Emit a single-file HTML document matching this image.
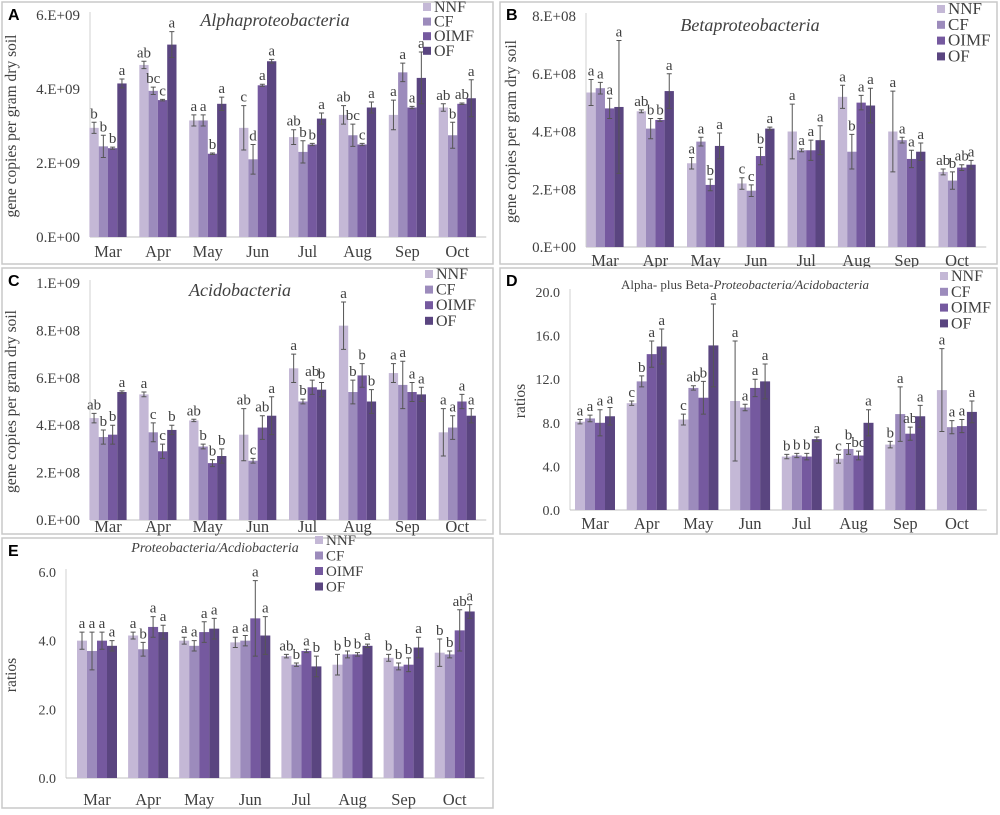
<!DOCTYPE html>
<html><head><meta charset="utf-8"><style>
body{margin:0;background:#fff}
svg text{font-family:"Liberation Serif",serif;fill:#404040}
</style></head><body>
<svg id="c" width="1000" height="810" viewBox="0 0 1000 810" xmlns="http://www.w3.org/2000/svg"></svg>
<script>
const months=["Mar","Apr","May","Jun","Jul","Aug","Sep","Oct"];
const series=["NNF","CF","OIMF","OF"];
const colors=["#c4b8d6","#9c8bbc","#75599f","#5a4580"];
// Panel A (x1E9)
const aVals=[[2.95,2.45,2.4,4.15],[4.65,3.95,3.7,5.2],[3.15,3.15,2.25,3.6],[2.95,2.1,4.1,4.75],[2.7,2.3,2.5,3.2],[3.3,2.75,2.5,3.5],[3.3,4.45,3.5,4.3],[3.5,2.75,3.6,3.75]];
const aErr=[[.15,.3,.03,.12],[.1,.1,.02,.35],[.15,.15,.02,.18],[.6,.4,.03,.05],[.2,.3,.03,.15],[.25,.3,.03,.15],[.4,.25,.03,.7],[.1,.35,.02,.5]];
const aLet=[["b","b","b","a"],["ab","bc","c","a"],["a","a","b","a"],["c","d","a","a"],["ab","b","b","a"],["ab","bc","c","a"],["a","a","a","a"],["ab","b","ab","a"]];
const aTicks=["0.E+00","2.E+09","4.E+09","6.E+09"];
// Panel B (x1E8)
const bVals=[[5.35,5.5,4.8,4.85],[4.7,4.1,4.4,5.4],[2.9,3.65,2.15,3.5],[2.2,1.95,3.15,4.1],[4.0,3.35,3.35,3.7],[5.2,3.3,5.0,4.9],[4.0,3.7,3.05,3.3],[2.6,2.3,2.75,2.85]];
const bErr=[[.45,.2,.35,2.3],[.05,.35,.05,.6],[.2,.15,.2,.45],[.2,.2,.3,.05],[.95,.05,.35,.5],[.4,.6,.25,.6],[1.4,.1,.3,.3],[.1,.3,.1,.15]];
const bLet=[["a","a","a","a"],["ab","b","b","a"],["a","a","b","a"],["c","c","b","a"],["a","a","a","a"],["a","b","a","a"],["a","a","a","a"],["ab","b","ab","a"]];
const bTicks=["0.E+00","2.E+08","4.E+08","6.E+08","8.E+08"];
// Panel C (x1E8)
const cVals=[[4.3,3.5,3.6,5.4],[5.3,3.7,2.9,3.8],[4.2,3.1,2.4,2.7],[3.6,2.5,3.9,4.4],[6.4,5.0,5.6,5.5],[8.2,5.4,6.1,5.0],[6.2,5.7,5.4,5.3],[3.7,3.9,5.0,4.4]];
const cErr=[[.2,.3,.4,.05],[.1,.4,.3,.2],[.05,.1,.15,.3],[1.1,.1,.5,.8],[.6,.1,.3,.3],[1.0,.5,.5,.5],[.4,1.0,.4,.3],[1.0,.5,.3,.3]];
const cLet=[["ab","b","b","a"],["a","c","c","b"],["ab","b","b","b"],["ab","c","ab","a"],["a","b","ab","b"],["a","b","b","b"],["a","a","a","a"],["a","a","a","a"]];
const cTicks=["0.E+00","2.E+08","4.E+08","6.E+08","8.E+08","1.E+09"];
// Panel D (ratios)
const dVals=[[8.1,8.4,8.0,8.6],[9.8,11.8,14.3,15.0],[8.3,11.2,10.3,15.1],[10.0,9.4,11.2,11.8],[4.9,5.0,4.9,6.5],[4.7,5.6,5.0,8.0],[6.0,8.8,7.0,8.6],[11.0,7.6,7.7,9.0]];
const dErr=[[.2,.3,1.2,.8],[.2,.5,1.2,1.6],[.5,.2,1.5,3.8],[5.5,.3,.8,1.6],[.2,.2,.3,.2],[.4,.5,.4,1.2],[.3,2.5,.6,1.0],[3.8,.6,.6,1.0]];
const dLet=[["a","a","a","a"],["c","b","a","a"],["c","ab","b","a"],["a","a","a","a"],["b","b","b","a"],["c","b","bc","a"],["b","a","ab","a"],["a","a","a","a"]];
const dTicks=["0.0","4.0","8.0","12.0","16.0","20.0"];
// Panel E (ratios)
const eVals=[[4.0,3.7,4.0,3.85],[4.15,3.75,4.4,4.25],[4.0,3.85,4.25,4.35],[3.95,4.0,4.65,4.15],[3.55,3.3,3.7,3.25],[3.3,3.6,3.6,3.85],[3.5,3.25,3.3,3.8],[3.65,3.6,4.3,4.85]];
const eErr=[[.25,.55,.25,.15],[.1,.2,.3,.2],[.1,.15,.3,.3],[.15,.15,1.1,.55],[.05,.05,.05,.3],[.3,.1,.05,.05],[.1,.1,.2,.3],[.4,.1,.6,.2]];
const eLet=[["a","a","a","a"],["a","b","a","a"],["a","a","a","a"],["a","a","a","a"],["ab","b","a","b"],["b","b","b","a"],["b","b","b","a"],["b","b","ab","a"]];
const eTicks=["0.0","2.0","4.0","6.0"];

const NS="http://www.w3.org/2000/svg";
const svg=document.getElementById("c");
function mk(tag,attrs,parent,text){const e=document.createElementNS(NS,tag);for(const k in attrs)e.setAttribute(k,attrs[k]);if(text!==undefined)e.textContent=text;(parent||svg).appendChild(e);return e;}

const panels=[
 {id:"a",box:[2,2,491,262],vals:aVals,err:aErr,let:aLet,ticks:aTicks,max:6,axX:90,base:237,top:15,x0:108,step:49.9,bw:9.3,xl:257,title:"Alphaproteobacteria",tx:275,ty:26,tfs:18,leg:[423,7,14.6,16],yl:"gene copies per gram dry soil",ylx:16,tfsz:15},
 {id:"b",box:[500,2,497,262],vals:bVals,err:bErr,let:bLet,ticks:bTicks,max:8,axX:586,base:247,top:16,x0:605,step:50.3,bw:9.3,xl:266,title:"Betaproteobacteria",tx:750,ty:31,tfs:18,leg:[937,9,15.8,17],yl:"gene copies per gram dry soil",ylx:516,tfsz:15},
 {id:"c",box:[2,268,491,266],vals:cVals,err:cErr,let:cLet,ticks:cTicks,max:10,axX:90,base:520,top:283,x0:108,step:49.9,bw:9.3,xl:532,title:"Acidobacteria",tx:240,ty:296,tfs:18,leg:[425,274,15.6,16],yl:"gene copies per gram dry soil",ylx:16,tfsz:15},
 {id:"d",box:[500,268,497,266],vals:dVals,err:dErr,let:dLet,ticks:dTicks,max:20,axX:570,base:510,top:292,x0:595,step:51.7,bw:10,xl:529,title:"D",tx:745,ty:289,tfs:13,leg:[940,276,15.8,16],yl:"ratios",ylx:525,tfsz:14},
 {id:"e",box:[2,538,491,270],vals:eVals,err:eErr,let:eLet,ticks:eTicks,max:6,axX:66,base:778,top:572,x0:97,step:51.1,bw:10,xl:805,title:"Proteobacteria/Acdiobacteria",tx:215,ty:552,tfs:14,leg:[315,540,15.5,15],yl:"ratios",ylx:16,tfsz:14},
];
const letters=["A","B","C","D","E"];
panels.forEach((p,pi)=>{
  const g=mk("g",{},svg);
  
  
  const fr=mk("rect",{x:p.box[0],y:p.box[1],width:p.box[2],height:p.box[3],fill:"#fff",stroke:"#c8c8c8","stroke-width":1.5},g);
  
  
  const y=v=>p.base-(v/p.max)*(p.base-p.top);
  const nT=p.ticks.length;
  p.ticks.forEach((t,i)=>{
    const v=p.max*i/(nT-1);
    const tt=mk("text",{x:p.axX-10,y:y(v)+5,"text-anchor":"end","font-size":p.tfsz},g,t);
    
    
  });
  const ax=mk("line",{x1:p.axX,y1:p.top-3,x2:p.axX,y2:p.base,stroke:"#d0d0d0"},g);
  
  
  const bx=mk("line",{x1:p.axX,y1:p.base,x2:p.x0+p.step*7.5+4,y2:p.base,stroke:"#c0c0c0"},g);
  
  
  p.vals.forEach((row,mi)=>{
    const cx=p.x0+mi*p.step;
    row.forEach((v,si)=>{
      const x=cx+(si-2)*p.bw;
      const r=mk("rect",{x:x,y:y(v),width:p.bw,height:p.base-y(v),fill:colors[si]},g);
      
      
      const e=p.err[mi][si],xm=x+p.bw/2;
      const el=mk("path",{d:`M${xm},${y(v+e)}V${y(v-e)}M${xm-2.5},${y(v+e)}h5M${xm-2.5},${y(v-e)}h5`,stroke:"#555","stroke-width":1,fill:"none"},g);
      
      
      const lt=mk("text",{x:xm,y:y(v+e)-4,"text-anchor":"middle","font-size":15},g,p.let[mi][si]);
      
      
    });
    const xl=mk("text",{x:cx,y:p.xl,"text-anchor":"middle","font-size":16.5},g,months[mi]);
    
    
  });
  series.forEach((s,si)=>{
    const ly=p.leg[1]+si*p.leg[2];
    const sq=mk("rect",{x:p.leg[0],y:ly-4,width:8,height:8,fill:colors[si]},g);
    
    
    const lt=mk("text",{x:p.leg[0]+11,y:ly+5,"font-size":p.leg[3]},g,s);
    
    
  });
  let tt;
  if(p.id==="d"){
    tt=mk("text",{x:p.tx,y:p.ty,"text-anchor":"middle","font-size":p.tfs},g);
    mk("tspan",{},tt,"Alpha- plus Beta-");
    mk("tspan",{"font-style":"italic"},tt,"Proteobacteria/Acidobacteria");
  } else {
    tt=mk("text",{x:p.tx,y:p.ty,"text-anchor":"middle","font-size":p.tfs,"font-style":"italic"},g,p.title);
  }
  
  
  const yl=mk("text",{x:0,y:0,"text-anchor":"middle","font-size":15.5,transform:`translate(${p.ylx},${(p.top+p.base)/2}) rotate(-90)`},g,p.yl);
  
  
  const lb=mk("rect",{x:p.box[0]+1,y:p.box[1]+1,width:22,height:22,fill:"#fff"},g);
  
  
  const pl=mk("text",{x:p.box[0]+6,y:p.box[1]+18,"font-size":16,"font-weight":"bold",style:"font-family:'Liberation Sans',sans-serif;fill:#000"},g,letters[pi]);
  
  
});
</script>
</body></html>
